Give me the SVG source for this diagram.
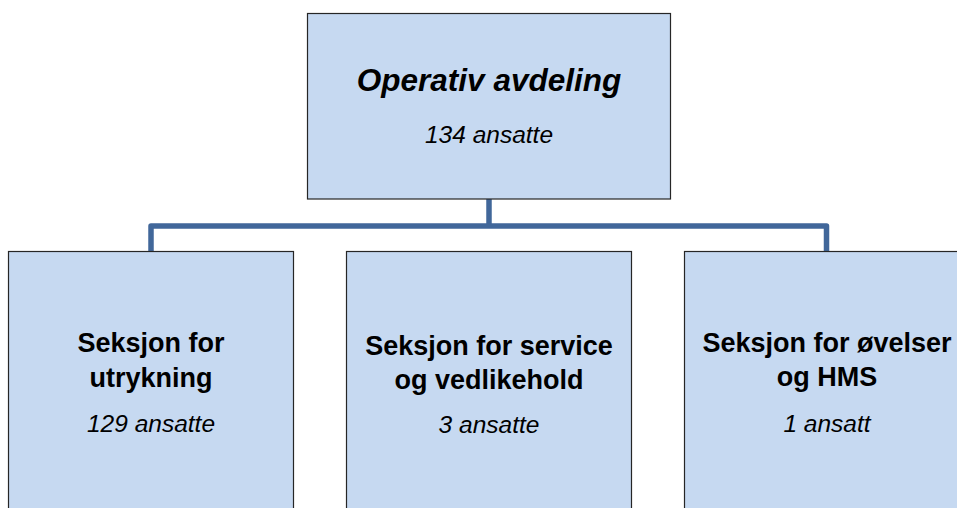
<svg xmlns="http://www.w3.org/2000/svg" width="957" height="508" viewBox="0 0 957 508">
<style>
.box{fill:#C6D9F1;stroke:#262626;stroke-width:1.2}
.con{fill:none;stroke:#41679A;stroke-width:5.5;stroke-linejoin:round}
text{font-family:"Liberation Sans",Arial,sans-serif;fill:#000;text-anchor:middle}
.t{font-weight:bold;font-size:27px}
.top{font-weight:bold;font-style:italic;font-size:31.5px}
.s{font-style:italic;font-size:24.5px}
</style>
<rect width="957" height="508" fill="#fff"/>
<g id="connectors">
<path class="con" d="M489 199 V226"/>
<path class="con" d="M151 251.5 V226 H826.5 V251.5"/>
</g>
<g id="node-operativ">
<rect class="box" x="307.5" y="13.5" width="363" height="185.5"/>
<text class="top" x="489" y="91">Operativ avdeling</text>
<text class="s" x="489" y="143">134 ansatte</text>
</g>
<g id="node-utrykning">
<rect class="box" x="8.5" y="251.5" width="285" height="275"/>
<text class="t" x="151" y="352">Seksjon for</text>
<text class="t" x="151" y="386.5">utrykning</text>
<text class="s" x="151" y="432">129 ansatte</text>
</g>
<g id="node-service">
<rect class="box" x="346.5" y="251.5" width="285" height="275"/>
<text class="t" x="489" y="355">Seksjon for service</text>
<text class="t" x="489" y="389">og vedlikehold</text>
<text class="s" x="489" y="433">3 ansatte</text>
</g>
<g id="node-ovelser">
<rect class="box" x="684.5" y="251.5" width="285" height="275"/>
<text class="t" x="827" y="352">Seksjon for øvelser</text>
<text class="t" x="827" y="386">og HMS</text>
<text class="s" x="827" y="432">1 ansatt</text>
</g>
</svg>
